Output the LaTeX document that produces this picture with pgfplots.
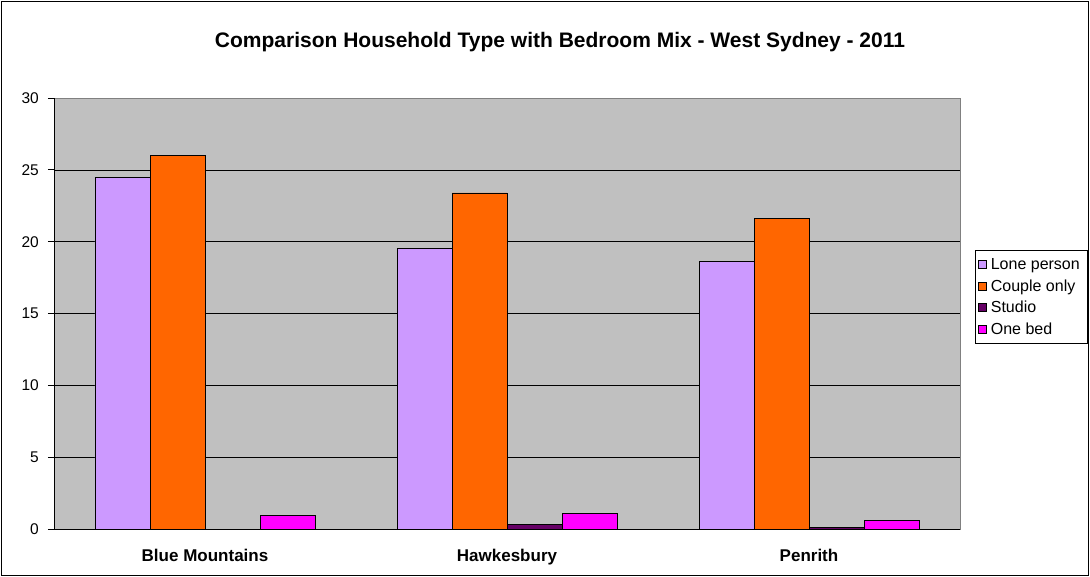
\documentclass[border=0pt]{standalone}
\usepackage{pgfplots}
\pgfplotsset{compat=1.18}
\usepackage{fontspec}
\setmainfont{Liberation Sans}
\definecolor{lone}{HTML}{CC99FF}
\definecolor{couple}{HTML}{FF6600}
\definecolor{studio}{HTML}{660066}
\definecolor{onebed}{HTML}{FF00FF}
\definecolor{bggray}{HTML}{C0C0C0}
\begin{document}
\begin{tikzpicture}[x=1pt,y=1pt]
\useasboundingbox (-54,-47) rectangle (1036,529);
\draw[black, line width=0.8pt] (-53,-46) rectangle (1034,528);
\node[font=\fontsize{21}{24}\selectfont\bfseries] at (506,487) {Comparison Household Type with Bedroom Mix - West Sydney - 2011};
\begin{axis}[
  at={(0,0)}, anchor=south west,
  scale only axis, width=906pt, height=431pt,
  ybar=0pt, bar width=55pt,
  xmin=-0.5, xmax=2.5, ymin=0, ymax=30,
  ytick={0,5,...,30},
  xtick={0,1,2},
  xticklabels={Blue Mountains, Hawkesbury, Penrith},
  /pgf/number format/assume math mode=true,
  tick pos=left,
  x tick style={draw=none},
  y tick style={black, line width=0.8pt},
  tick align=outside,
  major tick length=6pt,
  extra x ticks={-0.5,0.5,1.5,2.5},
  extra x tick labels={},
  extra x tick style={grid=none, tick style={black, line width=0.8pt, draw=black}, major tick length=7pt},
  ymajorgrids,
  grid style={black, line width=0.6pt},
  axis background/.style={fill=bggray},
  axis line style={draw=gray, line width=0.8pt},
  yticklabel style={font=\fontsize{15.5}{18}\selectfont, inner sep=0pt, xshift=-9pt},
  xticklabel style={font=\fontsize{17}{20}\selectfont\bfseries, inner sep=0pt, yshift=-14pt},
  every axis plot/.append style={draw=black, line width=0.6pt},
  legend style={at={(1.0166,0.647)}, anchor=north west, draw=black, line width=0.6pt, fill=white,
    font=\fontsize{16}{19}\selectfont, inner xsep=3pt, inner ysep=6pt, row sep=4.5pt,
    nodes={inner xsep=4pt}},
  legend cell align=left,
  legend image code/.code={\draw[#1, draw=black, line width=0.5pt] (2pt,-4pt) rectangle (10pt,4pt);},
]
\addplot[fill=lone] coordinates {(0,24.5) (1,19.55) (2,18.6)};
\addplot[fill=couple] coordinates {(0,26.0) (1,23.4) (2,21.6)};
\addplot[fill=studio] coordinates {(0,0) (1,0.3) (2,0.1)};
\addplot[fill=onebed] coordinates {(0,0.95) (1,1.1) (2,0.6)};
\legend{Lone person, Couple only, Studio, One bed}
\draw[black, line width=0.8pt] (rel axis cs:0,0) -- (rel axis cs:0,1);
\draw[black, line width=0.8pt] (rel axis cs:0,0) -- (rel axis cs:1,0);
\end{axis}
\end{tikzpicture}
\end{document}
